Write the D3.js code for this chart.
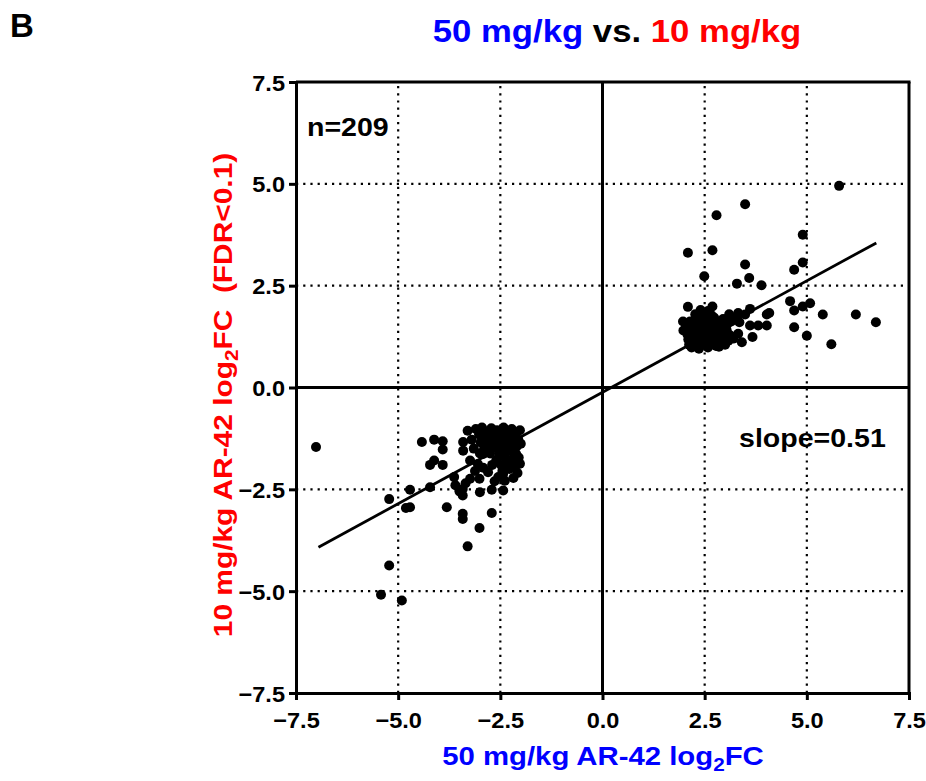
<!DOCTYPE html>
<html><head><meta charset="utf-8">
<script src="https://cdn.jsdelivr.net/npm/d3@7"></script>
<style>body{margin:0;background:#fff;} text{font-family:"Liberation Sans",Arial,sans-serif;font-weight:bold;}</style>
</head><body><svg id="c" width="926" height="781"></svg>
<script>
const xTicks = [-7.5,-5.0,-2.5,0.0,2.5,5.0,7.5];
const yTicks = [-7.5,-5.0,-2.5,0.0,2.5,5.0,7.5];
const gridVals = [-5.0,-2.5,2.5,5.0];
// upper-right cluster (x = 50 mg/kg log2FC, y = 10 mg/kg log2FC)
const upX = [5.79,3.49,2.79,4.90,2.09,2.69,3.49,4.90,4.69,2.49,3.59,3.29,3.89,2.09,2.69,4.59,5.08,4.90,4.69,5.39,6.20,6.69,4.69,5.00,5.60,4.02,4.08,3.61,3.32,3.49,3.61,3.81,4.02,3.67,3.41,3.20,3.32,
2.05,2.08,2.10,2.12,2.15,2.18,2.20,2.22,2.25,2.28,2.30,2.32,2.35,2.38,2.40,2.42,2.44,2.46,2.48,2.50,2.52,2.54,2.56,2.58,2.60,2.62,2.64,2.66,2.68,2.70,2.72,2.75,2.78,2.80,2.83,2.86,2.90,2.93,2.96,3.00,3.04,3.08,3.12,2.14,2.27,2.36,2.45,2.55,2.63,2.73,2.85,2.95,3.05,2.20,2.33,2.51,2.41,2.69,2.81,2.18,3.15,3.25,3.35,3.10,2.58,2.40,2.66,1.97,1.98];
const upY = [4.95,4.50,4.23,3.75,3.31,3.37,3.02,3.07,2.89,2.73,2.69,2.55,2.51,1.98,1.99,2.12,2.07,1.99,1.89,1.79,1.79,1.60,1.48,1.27,1.06,1.79,1.83,1.93,1.83,1.79,1.52,1.52,1.52,1.24,1.11,1.20,1.32,
1.45,1.30,1.18,1.05,1.38,1.55,1.22,1.10,1.65,1.32,1.00,1.48,1.15,1.72,1.28,1.40,1.05,1.58,1.20,1.82,1.35,1.12,1.50,0.98,1.25,1.68,1.40,1.08,1.30,1.55,1.18,1.45,1.02,1.35,1.62,1.22,1.12,1.48,1.30,1.05,1.40,1.15,1.28,1.62,1.80,0.95,1.75,1.30,1.15,1.72,1.00,1.68,1.55,1.40,1.60,1.05,1.52,1.42,1.50,0.98,1.62,1.70,1.60,1.80,1.88,1.90,1.78,1.62,1.40];
// lower-left cluster
const loX = [-7.01,-4.42,-4.12,-3.91,-3.91,-4.22,-4.12,-3.91,-4.71,-4.22,-5.22,-4.81,-4.71,-3.81,-5.22,-5.42,-4.91,-3.42,-3.42,-3.30,-3.01,-2.71,-3.42,-3.42,-3.63,-3.24,-3.01,-3.00,-2.71,-2.43,-2.92,-2.43,-2.39,-3.30,-3.41,-3.41,-3.24,-2.92,-2.02,-2.10,
-3.10,-3.02,-2.95,-2.88,-2.82,-2.78,-2.72,-2.68,-2.62,-2.58,-2.55,-2.50,-2.46,-2.42,-2.38,-2.35,-2.30,-2.26,-2.22,-2.18,-2.15,-2.10,-2.06,-2.02,-2.00,-2.98,-2.90,-2.85,-2.75,-2.65,-2.60,-2.52,-2.48,-2.40,-2.33,-2.28,-2.20,-2.14,-2.08,-2.45,-2.55,-2.70,-2.80,-3.05,-3.15,-3.20,-3.12,-3.35,-3.50,-3.60,-2.35,-2.60,-2.92,-2.24,-2.12,-2.44,-2.70,-2.05,-2.50,-2.76,-3.00,-2.32,-2.64,-2.18];
const loY = [-1.46,-1.34,-1.28,-1.32,-1.52,-1.90,-1.79,-1.90,-2.51,-2.45,-2.74,-2.96,-2.94,-2.94,-4.37,-5.09,-5.23,-3.10,-3.23,-3.90,-3.45,-3.08,-2.65,-2.49,-2.20,-2.24,-2.24,-2.57,-2.51,-2.53,-1.97,-2.12,-2.29,-1.06,-1.34,-1.55,-1.79,-1.63,-1.87,-1.67,
-1.02,-1.15,-0.98,-1.25,-1.08,-1.40,-1.00,-1.18,-1.32,-1.05,-1.50,-1.12,-1.28,-0.98,-1.42,-1.08,-1.22,-1.55,-1.02,-1.35,-1.15,-1.45,-1.28,-1.05,-1.38,-1.35,-1.52,-1.18,-1.62,-1.45,-1.78,-1.65,-1.90,-1.70,-1.85,-2.00,-1.75,-1.95,-2.10,-2.05,-2.20,-1.90,-2.08,-1.88,-1.50,-1.28,-2.05,-2.35,-2.55,-2.40,-1.30,-1.20,-1.10,-1.18,-1.62,-1.58,-1.30,-1.72,-1.40,-1.12,-1.62,-1.48,-2.30,-2.22];
const fitX = [-6.95, 6.70];
const fitY = [-3.92, 3.55];

const svg = d3.select("#c");
const x = d3.scaleLinear().domain([-7.5,7.5]).range([296,909]);
const y = d3.scaleLinear().domain([-7.5,7.5]).range([693,82]);
const SW = 3;

// grid dotted
const g = svg.append("g");
gridVals.forEach(v=>{
  g.append("line").attr("x1",x(-7.5)).attr("x2",x(7.5)).attr("y1",y(v)).attr("y2",y(v))
   .attr("stroke","#000").attr("stroke-width",2.2).attr("stroke-dasharray","2.2,5");
  g.append("line").attr("y1",y(-7.5)).attr("y2",y(7.5)).attr("x1",x(v)).attr("x2",x(v))
   .attr("stroke","#000").attr("stroke-width",2.2).attr("stroke-dasharray","2.2,5");
});
// frame
svg.append("line").attr("x1",x(-7.5)).attr("x2",x(7.5)+SW/2).attr("y1",y(7.5)).attr("y2",y(7.5)).attr("stroke","#000").attr("stroke-width",SW);
svg.append("line").attr("x1",x(7.5)).attr("x2",x(7.5)).attr("y1",y(-7.5)).attr("y2",y(7.5)).attr("stroke","#000").attr("stroke-width",SW);
// zero lines
svg.append("line").attr("x1",x(-7.5)).attr("x2",x(7.5)).attr("y1",y(0)).attr("y2",y(0)).attr("stroke","#000").attr("stroke-width",SW);
svg.append("line").attr("x1",x(0)).attr("x2",x(0)).attr("y1",y(-7.5)).attr("y2",y(7.5)).attr("stroke","#000").attr("stroke-width",SW);

// axes
const ax = svg.append("g").attr("transform",`translate(0,${y(-7.5)})`)
  .call(d3.axisBottom(x).tickValues(xTicks).tickFormat(d3.format(".1f")).tickSizeOuter(0).tickSize(7));
const ay = svg.append("g").attr("transform",`translate(${x(-7.5)},0)`)
  .call(d3.axisLeft(y).tickValues(yTicks).tickFormat(d3.format(".1f")).tickSizeOuter(0).tickSize(7));
[ax,ay].forEach(a=>{
  a.select(".domain").attr("stroke-width",SW);
  a.selectAll(".tick line").attr("stroke-width",SW);
  a.selectAll(".tick text").attr("font-size",22).attr("font-weight","bold").attr("fill","#000")
   .attr("font-family","'Liberation Sans',Arial,sans-serif");
});
ax.selectAll(".tick text").attr("y",0).attr("dy",0).attr("transform","translate(0,35) scale(1.07,1)");
ay.selectAll(".tick text").attr("x",0).attr("dy",0).attr("transform","translate(-11,8) scale(1.07,1)");

// points
const pts = upX.map((v,i)=>[v,upY[i]]).concat(loX.map((v,i)=>[v,loY[i]]));
svg.append("g").selectAll("circle").data(pts).join("circle")
  .attr("cx",d=>x(d[0])).attr("cy",d=>y(d[1])).attr("r",5).attr("fill","#000");

// fit line
svg.append("line").attr("x1",x(fitX[0])).attr("y1",y(fitY[0])).attr("x2",x(fitX[1])).attr("y2",y(fitY[1]))
  .attr("stroke","#000").attr("stroke-width",2.8);

// texts
svg.append("text").attr("x",10).attr("y",37).attr("font-size",33).text("B");
const t = svg.append("text").attr("transform","translate(617,42) scale(1.12,1)").attr("text-anchor","middle").attr("font-size",31);
t.append("tspan").attr("fill","#0000ff").text("50 mg/kg");
t.append("tspan").attr("fill","#000").text(" vs. ");
t.append("tspan").attr("fill","#ff0000").text("10 mg/kg");

svg.append("text").attr("transform","translate(307,136) scale(1.12,1)").attr("font-size",25.5).text("n=209");
svg.append("text").attr("transform","translate(739,447) scale(1.12,1)").attr("font-size",25.5).text("slope=0.51");

const xl = svg.append("text").attr("transform","translate(603,765) scale(1.15,1)").attr("text-anchor","middle").attr("font-size",25.5).attr("fill","#0000ff");
xl.append("tspan").text("50 mg/kg AR-42 log");
xl.append("tspan").attr("font-size",18).attr("dy",6).text("2");
xl.append("tspan").attr("dy",-6).text("FC");

const yl = svg.append("text").attr("transform","translate(232,395) rotate(-90) scale(1.15,1)").attr("text-anchor","middle").attr("font-size",26).attr("fill","#ff0000");
yl.append("tspan").text("10 mg/kg AR-42 log");
yl.append("tspan").attr("font-size",18).attr("dy",6).text("2");
yl.append("tspan").attr("dy",-6).text("FC\u00a0\u00a0(FDR<0.1)");
</script></body></html>
